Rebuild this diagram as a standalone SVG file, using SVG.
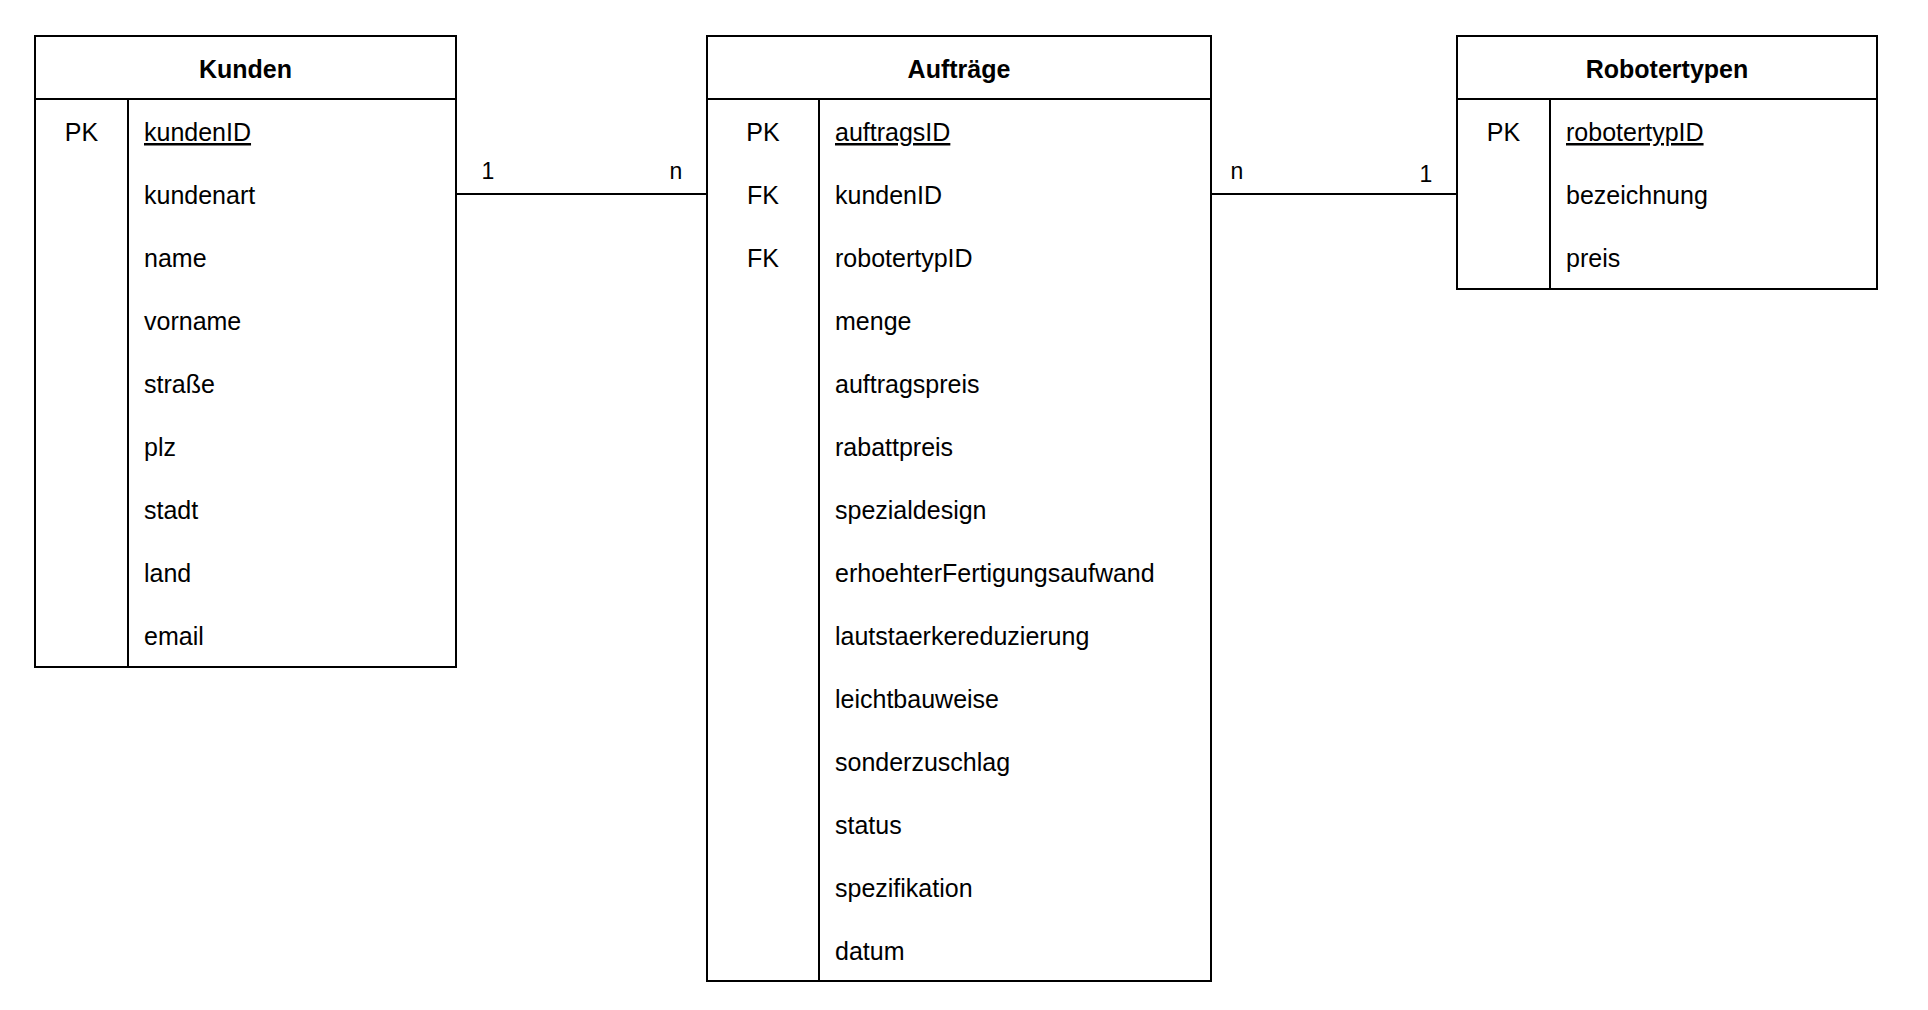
<svg xmlns="http://www.w3.org/2000/svg" width="1928" height="1010" viewBox="0 0 1928 1010">
<style>
.box{fill:#fff;stroke:#000;stroke-width:2}
.ln{stroke:#000;stroke-width:2;fill:none}
.h{font-family:"Liberation Sans",Arial,sans-serif;font-size:25px;font-weight:bold;text-anchor:middle;fill:#000}
.t{font-family:"Liberation Sans",Arial,sans-serif;font-size:25px;fill:#000}
.k{font-family:"Liberation Sans",Arial,sans-serif;font-size:25px;fill:#000;text-anchor:middle}
.u{text-decoration:underline}
.lbl{font-family:"Liberation Sans",Arial,sans-serif;font-size:23px;fill:#000;text-anchor:middle}
</style>
<rect width="1928" height="1010" fill="#fff"/>
<g id="connectors">
<line class="ln" x1="456" y1="194" x2="707" y2="194"/>
<text class="lbl" x="488" y="179">1</text>
<text class="lbl" x="676" y="179">n</text>
<line class="ln" x1="1211" y1="194" x2="1457" y2="194"/>
<text class="lbl" x="1237" y="179">n</text>
<text class="lbl" x="1426" y="182">1</text>
</g>
<g id="kunden">
<rect class="box" x="35" y="36" width="421" height="631"/>
<line class="ln" x1="35" y1="99" x2="456" y2="99"/>
<line class="ln" x1="128" y1="99" x2="128" y2="667"/>
<text class="h" x="245.5" y="78">Kunden</text>
<text class="k" x="81.5" y="141">PK</text>
<text class="t u" x="144" y="141">kundenID</text>
<text class="t" x="144" y="204">kundenart</text>
<text class="t" x="144" y="267">name</text>
<text class="t" x="144" y="330">vorname</text>
<text class="t" x="144" y="393">straße</text>
<text class="t" x="144" y="456">plz</text>
<text class="t" x="144" y="519">stadt</text>
<text class="t" x="144" y="582">land</text>
<text class="t" x="144" y="645">email</text>
</g>
<g id="auftraege">
<rect class="box" x="707" y="36" width="504" height="945"/>
<line class="ln" x1="707" y1="99" x2="1211" y2="99"/>
<line class="ln" x1="819" y1="99" x2="819" y2="981"/>
<text class="h" x="959" y="78">Aufträge</text>
<text class="k" x="763" y="141">PK</text>
<text class="k" x="763" y="204">FK</text>
<text class="k" x="763" y="267">FK</text>
<text class="t u" x="835" y="141">auftragsID</text>
<text class="t" x="835" y="204">kundenID</text>
<text class="t" x="835" y="267">robotertypID</text>
<text class="t" x="835" y="330">menge</text>
<text class="t" x="835" y="393">auftragspreis</text>
<text class="t" x="835" y="456">rabattpreis</text>
<text class="t" x="835" y="519">spezialdesign</text>
<text class="t" x="835" y="582">erhoehterFertigungsaufwand</text>
<text class="t" x="835" y="645">lautstaerkereduzierung</text>
<text class="t" x="835" y="708">leichtbauweise</text>
<text class="t" x="835" y="771">sonderzuschlag</text>
<text class="t" x="835" y="834">status</text>
<text class="t" x="835" y="897">spezifikation</text>
<text class="t" x="835" y="960">datum</text>
</g>
<g id="robotertypen">
<rect class="box" x="1457" y="36" width="420" height="253"/>
<line class="ln" x1="1457" y1="99" x2="1877" y2="99"/>
<line class="ln" x1="1550" y1="99" x2="1550" y2="289"/>
<text class="h" x="1667" y="78">Robotertypen</text>
<text class="k" x="1503.5" y="141">PK</text>
<text class="t u" x="1566" y="141">robotertypID</text>
<text class="t" x="1566" y="204">bezeichnung</text>
<text class="t" x="1566" y="267">preis</text>
</g>
</svg>
